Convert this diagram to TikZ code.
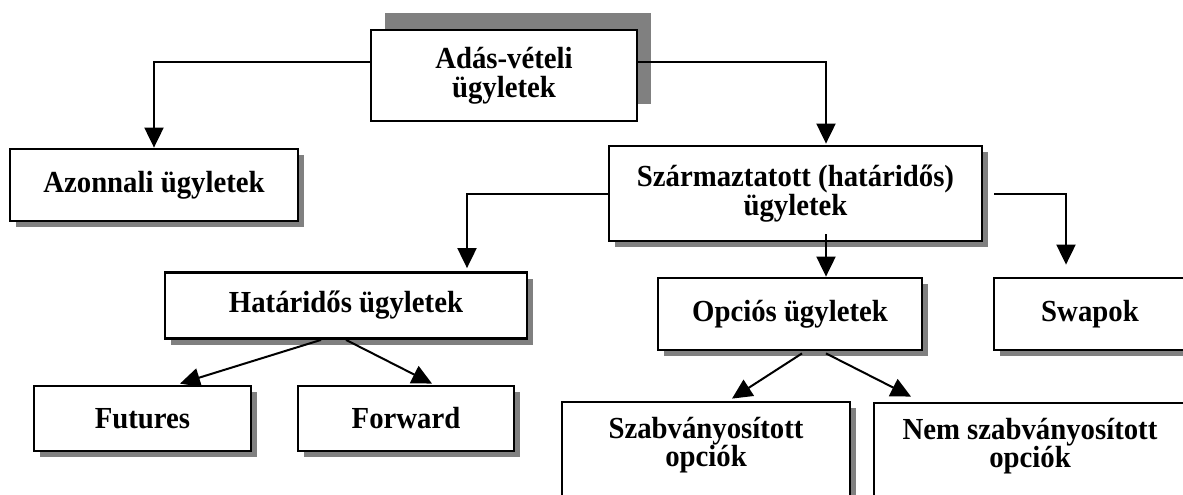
\documentclass[tikz,border=0pt]{standalone}
\usepackage{fontspec}
\setmainfont{Liberation Serif}[FakeStretch=0.94]
\usetikzlibrary{arrows.meta,shadows}
\begin{document}
\begin{tikzpicture}[x=1pt,y=-1pt,
  boxfont/.style={font=\bfseries\fontsize{30.6}{28.5}\selectfont},
  box/.style={boxfont, draw=black, line width=2.8pt, fill=white, align=center, inner sep=0pt,
    drop shadow={shadow xshift=6pt, shadow yshift=-6pt, opacity=1, fill=black!50}},
  topbox/.style={boxfont, draw=black, line width=2.8pt, fill=white, align=center, inner sep=0pt,
    drop shadow={shadow xshift=14pt, shadow yshift=17pt, opacity=1, fill=black!50}},
  boxtext/.style={boxfont, align=center, inner sep=0pt},
  conn/.style={line width=2pt, -{Triangle[length=20pt,width=19pt]}}]
\clip (0,0) rectangle (1183,495);
\useasboundingbox (0,0) rectangle (1183,495);

% boxes
\node[topbox, minimum width=266pt, minimum height=91pt] (top) at (504,75.5) {Adás-vételi\\ügyletek};
\node[box, minimum width=288pt, minimum height=72pt] (azon) at (154,185) {Azonnali ügyletek};
\node[box, minimum width=373pt, minimum height=95pt] (szar) at (795.5,193.5) {Származtatott (határidős)\\ügyletek};
\node[box, minimum width=362pt, minimum height=66pt] (hat) at (346,305.5) {Határidős ügyletek};
\node[box, minimum width=264pt, minimum height=72pt] (opc) at (790,314) {Opciós ügyletek};
\node[box, minimum width=192pt, minimum height=72pt] (swap) at (1090,314) {Swapok};
\node[box, minimum width=217pt, minimum height=65pt] (fut) at (142.5,418.5) {Futures};
\node[box, minimum width=216pt, minimum height=65pt] (fwd) at (406,418.5) {Forward};
\node[box, minimum width=288pt, minimum height=98pt] (szb) at (706,451) {};
\node[boxtext] (szbt) at (706,445) {Szabványosított\\opciók};
\node[box, minimum width=312pt, minimum height=97pt] (nem) at (1030,451.5) {};
\node[boxtext] (nemt) at (1030,446) {Nem szabványosított\\opciók};

% connectors
\draw[conn] ([yshift=13.5pt]top.west) -| (azon.north);
\draw[conn] ([yshift=13.5pt]top.east) -| ([xshift=30.5pt,yshift=1pt]szar.north);
\draw[conn] (szar.west) -| ([xshift=121pt,yshift=3pt]hat.north);
\draw[conn] ([xshift=11pt]szar.east) -| ([xshift=-24pt,yshift=12pt]swap.north);
\draw[conn] ([xshift=30.5pt,yshift=8pt]szar.south) -- ([xshift=36pt]opc.north);
\draw[conn] ([xshift=-25pt]hat.south) -- ([xshift=37.5pt,yshift=1pt]fut.north);
\draw[conn] (hat.south) -- ([xshift=26pt,yshift=1pt]fwd.north);
\draw[conn] ([xshift=12pt,yshift=-2pt]opc.south) -- ([xshift=26pt,yshift=2pt]szb.north);
\draw[conn] ([xshift=36pt,yshift=-2pt]opc.south) -- ([xshift=-119pt,yshift=5pt]nem.north);
\end{tikzpicture}
\end{document}
